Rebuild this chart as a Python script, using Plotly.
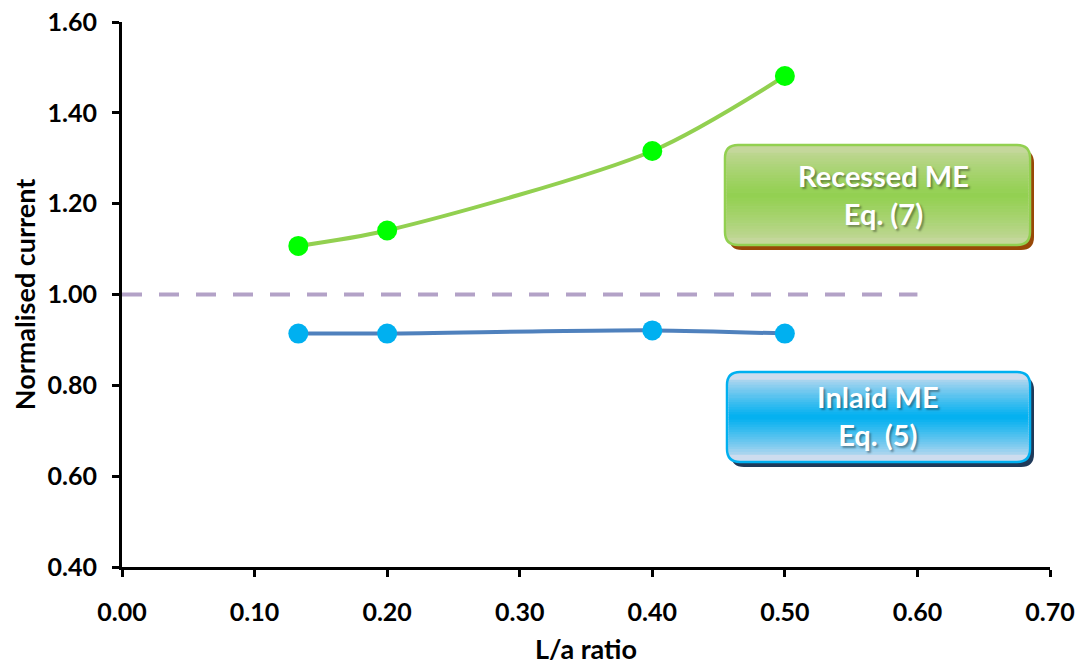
import plotly.graph_objects as go

# ---- data ----
la_ratio = [0.133, 0.20, 0.40, 0.50]
recessed = [1.107, 1.141, 1.316, 1.481]
inlaid = [0.914, 0.914, 0.921, 0.914]
ref_x = [0.0, 0.60]
ref_y = [1.0, 1.0]
x_ticks = [0.0, 0.1, 0.2, 0.3, 0.4, 0.5, 0.6, 0.7]
y_ticks = [0.4, 0.6, 0.8, 1.0, 1.2, 1.4, 1.6]

OFF = 8  # page body margin in the browser
W, H = 1084 - OFF, 665 - OFF
L, R, T, B = 122 - OFF, 34, 22 - OFF, 98
PW, PH = W - L - R, H - T - B

def px(xp):
    # xp: screenshot pixel
    return (xp - OFF - L) / PW

def py(yp):
    return (H - B - (yp - OFF)) / PH

def rrect(x0, y0, x1, y1, r):
    def P(x, y):
        return f"{px(x):.5f},{py(y):.5f}"
    d = (f"M {P(x0 + r, y0)} L {P(x1 - r, y0)} Q {P(x1, y0)} {P(x1, y0 + r)} "
         f"L {P(x1, y1 - r)} Q {P(x1, y1)} {P(x1 - r, y1)} L {P(x0 + r, y1)} "
         f"Q {P(x0, y1)} {P(x0, y1 - r)} L {P(x0, y0 + r)} Q {P(x0, y0)} {P(x0 + r, y0)} Z")
    return d

def lerp(c1, c2, t):
    return tuple(int(round(a + (b - a) * t)) for a, b in zip(c1, c2))

def box_shapes(x0, y0, x1, y1, r, light, mid, border, shadow):
    shapes = []
    shapes.append(dict(type="path", xref="paper", yref="paper",
                       path=rrect(x0 + 4, y0 + 5, x1 + 4, y1 + 5, r),
                       fillcolor=shadow, line=dict(width=0), layer="above"))
    shapes.append(dict(type="path", xref="paper", yref="paper",
                       path=rrect(x0, y0, x1, y1, r),
                       fillcolor="rgb(%d,%d,%d)" % light, line=dict(width=0), layer="above"))
    n = 30
    ya, yb = y0 + r * 0.6, y1 - r * 0.6
    hgt = (yb - ya) / n
    cy = (y0 + y1) / 2
    for i in range(n):
        s0 = ya + i * hgt
        s1 = s0 + hgt + 0.6
        c = (s0 + hgt / 2 - cy) / ((y1 - y0) / 2)
        t = max(0.0, 1 - abs(c) * 1.1)
        col = lerp(light, mid, t ** 0.8)
        shapes.append(dict(type="rect", xref="paper", yref="paper",
                           x0=px(x0 + 1.5), x1=px(x1 - 1.5), y0=py(s0), y1=py(s1),
                           fillcolor="rgb(%d,%d,%d)" % col, line=dict(width=0), layer="above"))
    shapes.append(dict(type="path", xref="paper", yref="paper",
                       path=rrect(x0, y0, x1, y1, r),
                       fillcolor="rgba(0,0,0,0)", line=dict(color=border, width=2.5), layer="above"))
    return shapes

fig = go.Figure()

fig.add_trace(go.Scatter(x=ref_x, y=ref_y, mode="lines",
                         line=dict(color="#b3a2c7", width=4, dash="20px,17px"),
                         showlegend=False, hoverinfo="skip"))
fig.add_trace(go.Scatter(x=la_ratio, y=recessed, mode="lines+markers",
                         line=dict(color="#92d050", width=4, shape="spline", smoothing=0.8),
                         marker=dict(color="#00ff00", size=20, line=dict(width=0)),
                         showlegend=False))
fig.add_trace(go.Scatter(x=la_ratio, y=inlaid, mode="lines+markers",
                         line=dict(color="#4f81bd", width=4, shape="spline", smoothing=0.8),
                         marker=dict(color="#00b0f0", size=20, line=dict(width=0)),
                         showlegend=False))

shapes = []
shapes += box_shapes(725, 145, 1030, 245, 13, (196, 215, 155), (146, 208, 80), "#92d050", "#984807")
shapes += box_shapes(727, 372, 1030, 462, 13, (205, 220, 238), (0, 176, 240), "#00b0f0", "#1f3a5a")

font_fam = "Lato, 'Open Sans', 'DejaVu Sans', sans-serif"
box_font = dict(family=font_fam, size=29, color="white", weight="bold",
                shadow="2px 2px 2px rgba(0,0,0,0.35)")
annotations = [
    dict(xref="paper", yref="paper", x=px(883), y=py(194), xanchor="center", yanchor="middle",
         text="Recessed ME<br>Eq. (7)", showarrow=False, align="center", font=box_font),
    dict(xref="paper", yref="paper", x=px(878), y=py(416), xanchor="center", yanchor="middle",
         text="Inlaid ME<br>Eq. (5)", showarrow=False, align="center", font=box_font),
]

axis_common = dict(showline=True, linecolor="black", linewidth=3, ticks="outside",
                   ticklen=7, tickwidth=3, tickcolor="black", showgrid=False,
                   zeroline=False, mirror=False, automargin=False,
                   ticklabeloverflow="allow",
                   tickfont=dict(family=font_fam, size=25, color="black", weight="bold"))

title_font = dict(family=font_fam, size=27, color="black", weight="bold")

fig.update_layout(
    width=W, height=H,
    margin=dict(l=L, r=R, t=T, b=B),
    paper_bgcolor="white", plot_bgcolor="white",
    xaxis=dict(range=[0, 0.7], tickvals=x_ticks, tickformat=".2f", ticklabelstandoff=14,
               title=dict(text="L/a ratio", standoff=22, font=title_font),
               **axis_common),
    yaxis=dict(range=[0.4, 1.6], tickvals=y_ticks, tickformat=".2f", ticklabelstandoff=10,
               title=dict(text="Normalised current", standoff=10, font=title_font),
               **axis_common),
    shapes=shapes,
    annotations=annotations,
)

fig.write_html("out.html")
